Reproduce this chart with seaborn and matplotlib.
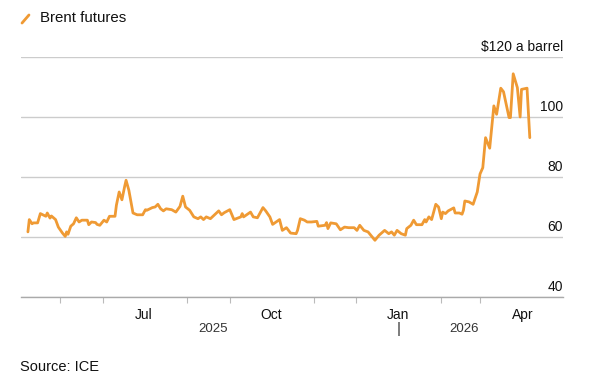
import pandas as pd
import matplotlib.pyplot as plt
import matplotlib.dates as mdates
from matplotlib.lines import Line2D
import seaborn as sns

# ============================
# Data
# ============================
dates = [
    "2025-04-08", "2025-04-09", "2025-04-11", "2025-04-12", "2025-04-15", "2025-04-17",
    "2025-04-21", "2025-04-22", "2025-04-24", "2025-04-25", "2025-04-28", "2025-04-30",
    "2025-05-03", "2025-05-05", "2025-05-06", "2025-05-07", "2025-05-09", "2025-05-11",
    "2025-05-13", "2025-05-15", "2025-05-17", "2025-05-21", "2025-05-22", "2025-05-24",
    "2025-05-27", "2025-05-28", "2025-05-30", "2025-06-02", "2025-06-04", "2025-06-06",
    "2025-06-10", "2025-06-11", "2025-06-13", "2025-06-15", "2025-06-17", "2025-06-18",
    "2025-06-20", "2025-06-23", "2025-06-26", "2025-06-30", "2025-07-02", "2025-07-03",
    "2025-07-07", "2025-07-09", "2025-07-11", "2025-07-13", "2025-07-15", "2025-07-17",
    "2025-07-21", "2025-07-24", "2025-07-27", "2025-07-29", "2025-07-31", "2025-08-03",
    "2025-08-06", "2025-08-09", "2025-08-11", "2025-08-13", "2025-08-15", "2025-08-18",
    "2025-08-21", "2025-08-24", "2025-08-26", "2025-08-28", "2025-09-01", "2025-09-04",
    "2025-09-09", "2025-09-10", "2025-09-11", "2025-09-16", "2025-09-18", "2025-09-21",
    "2025-09-25", "2025-09-27", "2025-09-30", "2025-10-02", "2025-10-07", "2025-10-09",
    "2025-10-12", "2025-10-15", "2025-10-19", "2025-10-20", "2025-10-22", "2025-10-25",
    "2025-10-27", "2025-10-30", "2025-11-03", "2025-11-04", "2025-11-09", "2025-11-10",
    "2025-11-11", "2025-11-13", "2025-11-17", "2025-11-20", "2025-11-23", "2025-11-26",
    "2025-11-30", "2025-12-02", "2025-12-04", "2025-12-07", "2025-12-10", "2025-12-12",
    "2025-12-15", "2025-12-18", "2025-12-22", "2025-12-25", "2025-12-27", "2025-12-29",
    "2025-12-31", "2026-01-03", "2026-01-06", "2026-01-07", "2026-01-10", "2026-01-12",
    "2026-01-14", "2026-01-18", "2026-01-20", "2026-01-21", "2026-01-23", "2026-01-25",
    "2026-01-28", "2026-01-30", "2026-02-01", "2026-02-02", "2026-02-04", "2026-02-06",
    "2026-02-10", "2026-02-11", "2026-02-14", "2026-02-16", "2026-02-17", "2026-02-18",
    "2026-02-21", "2026-02-24", "2026-02-27", "2026-03-01", "2026-03-03", "2026-03-05",
    "2026-03-08", "2026-03-11", "2026-03-13", "2026-03-16", "2026-03-18", "2026-03-22",
    "2026-03-23", "2026-03-25", "2026-03-28", "2026-03-30", "2026-03-31", "2026-04-04",
    "2026-04-06",
]
prices = [
    61.7, 65.8, 64.4, 64.7, 64.7, 67.8,
    66.9, 68.0, 66.3, 67.0, 65.8, 63.3,
    61.3, 60.2, 61.7, 60.9, 63.6, 64.4,
    66.4, 65.0, 65.6, 65.6, 64.1, 65.0,
    64.8, 64.2, 63.9, 65.6, 65.0, 66.9,
    66.9, 70.6, 75.0, 72.4, 76.9, 78.9,
    75.6, 68.0, 67.4, 67.4, 69.1, 68.9,
    69.8, 70.0, 70.9, 69.4, 68.7, 69.4,
    69.1, 68.3, 70.2, 73.6, 70.0, 68.9,
    66.7, 66.1, 66.7, 65.8, 66.7, 66.1,
    67.4, 68.7, 67.4, 68.1, 69.1, 65.8,
    66.7, 67.8, 66.7, 68.3, 66.7, 66.4,
    69.8, 68.7, 66.7, 64.2, 65.8, 62.2,
    63.1, 61.3, 61.1, 62.2, 66.1, 65.6,
    65.0, 65.0, 65.2, 63.6, 63.9, 64.8,
    62.8, 64.7, 64.4, 62.4, 63.3, 63.1,
    63.1, 62.2, 63.9, 62.2, 61.7, 60.6,
    58.9, 60.6, 62.2, 61.1, 61.7, 60.6,
    62.2, 61.1, 60.6, 62.8, 63.9, 65.6,
    64.1, 64.1, 65.8, 65.0, 66.7, 65.8,
    70.9, 70.0, 66.1, 68.3, 67.8, 68.7,
    69.7, 68.0, 68.0, 67.6, 68.9, 72.0,
    71.7, 70.9, 75.0, 81.0, 83.1, 93.1,
    89.6, 103.7, 100.9, 109.6, 108.4, 99.8,
    99.8, 114.4, 109.8, 100.0, 109.2, 109.6,
    93.1,
]
y_ticks = [40, 60, 80, 100, 120]
y_labels = ["40", "60", "80", "100", "$120 a barrel"]
month_ticks = ["2025-07-01", "2025-10-01", "2026-01-01", "2026-04-01"]
month_labels = ["Jul", "Oct", "Jan", "Apr"]
year_labels = ["2025", "2026"]

df = pd.DataFrame({"date": pd.to_datetime(dates), "price": prices})

orange = "#EF9A34"

sns.set_theme(style="white")
plt.rcParams["font.family"] = ["Liberation Sans", "DejaVu Sans"]

fig = plt.figure(figsize=(6, 3.84), dpi=100)
ax = fig.add_axes([0.035, 0.2266, 0.9033, 0.625])

sns.lineplot(data=df, x="date", y="price", color=orange, linewidth=2.0, ax=ax)

ax.set_xlim(pd.Timestamp("2025-04-03"), pd.Timestamp("2026-04-30"))
ax.set_ylim(40, 120)
ax.set_xlabel("")
ax.set_ylabel("")

# gridlines + labels sitting on top of them at the right
ax.set_yticks(y_ticks)
ax.tick_params(axis="y", left=False, labelleft=False)
ax.grid(axis="y", color="#cccccc", linewidth=1)
ax.grid(axis="x", visible=False)
for v, lab in zip(y_ticks, y_labels):
    ax.annotate(lab, xy=(1.0, v), xycoords=("axes fraction", "data"),
                xytext=(0, 2), textcoords="offset points",
                ha="right", va="bottom", fontsize=10, color="#111111")

for s in ["top", "left", "right"]:
    ax.spines[s].set_visible(False)
ax.spines["bottom"].set_color("#aaaaaa")
ax.spines["bottom"].set_linewidth(1)

# x axis: quarter labels, monthly minor ticks
ax.set_xticks(pd.to_datetime(month_ticks))
ax.set_xticklabels(month_labels, fontsize=10, color="#111111")
ax.xaxis.set_minor_locator(mdates.MonthLocator())
ax.tick_params(axis="x", which="major", length=5, width=1, color="#333333", pad=3)
ax.tick_params(axis="x", which="minor", length=4, width=0.8, color="#bbbbbb", bottom=True)

# year labels centred under the part of each year with data
jan = pd.Timestamp("2026-01-01")
spans = [(df["date"].min(), jan), (jan, df["date"].max())]
for (a, b), yr in zip(spans, year_labels):
    mid = a + (b - a) / 2
    ax.annotate(yr, xy=(mid, 0), xycoords=("data", "axes fraction"),
                xytext=(0, -23), textcoords="offset points",
                ha="center", va="center", fontsize=9.5, color="#333333")
ax.annotate("|", xy=(jan, 0), xycoords=("data", "axes fraction"),
            xytext=(0, -23), textcoords="offset points",
            ha="center", va="center", fontsize=11, color="#333333")

# legend
fig.add_artist(Line2D([0.0367, 0.0483], [0.940, 0.961], color=orange,
                      linewidth=2, transform=fig.transFigure))
fig.text(0.0667, 0.953, "Brent futures", fontsize=10.8, va="center", color="#111111")

fig.text(0.033, 0.044, "Source: ICE", fontsize=10.5, va="center", color="#111111")

fig.savefig("out.png", dpi=100)
